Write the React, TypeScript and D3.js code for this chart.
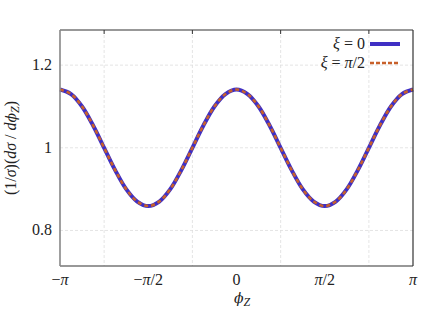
import React from 'react';
import * as d3 from 'd3';

// phi_Z sampled every pi/16 from -pi to pi
const phiSteps = d3.range(-16, 17);
const xi0 = [
  1.141, 1.130, 1.100, 1.054, 1.000, 0.946, 0.900, 0.870, 0.859, 0.870, 0.900,
  0.946, 1.000, 1.054, 1.100, 1.130, 1.141, 1.130, 1.100, 1.054, 1.000, 0.946,
  0.900, 0.870, 0.859, 0.870, 0.900, 0.946, 1.000, 1.054, 1.100, 1.130, 1.141,
];
const xiHalfPi = [
  1.141, 1.130, 1.100, 1.054, 1.000, 0.946, 0.900, 0.870, 0.859, 0.870, 0.900,
  0.946, 1.000, 1.054, 1.100, 1.130, 1.141, 1.130, 1.100, 1.054, 1.000, 0.946,
  0.900, 0.870, 0.859, 0.870, 0.900, 0.946, 1.000, 1.054, 1.100, 1.130, 1.141,
];
const yTicks = [0.8, 1, 1.2];
const yTickLabels = ['0.8', '1', '1.2'];
const xTicks = [-1, -0.5, 0, 0.5, 1];
const xTickLabels = ['\u2212\u03c0', '\u2212\u03c0/2', '0', '\u03c0/2', '\u03c0'];
const xGrid = [-0.75, -0.25, 0.25, 0.75];

const W = 436;
const H = 327;
const margin = { left: 60, right: 23, top: 30, bottom: 61 };
const font = '"Liberation Serif", "DejaVu Serif", serif';
const phiFont = '"DejaVu Serif", serif';
const fs = 16;

export default function App() {
  const x = d3.scaleLinear().domain([-Math.PI, Math.PI]).range([margin.left, W - margin.right]);
  const y = d3.scaleLinear().domain([0.714, 1.285]).range([H - margin.bottom, margin.top]);

  const line = d3.line<number>()
    .x((d, i) => x(phiSteps[i] * Math.PI / 16))
    .y(d => y(d))
    .curve(d3.curveCatmullRom);

  const [x0, x1] = x.range();
  const [y0, y1] = y.range();

  return (
    <svg width={W} height={H} style={{ position: 'absolute', left: 0, top: 0 }} fontFamily={font}>
      <rect width={W} height={H} fill="#fff" />
      {xGrid.map(g => (
        <g key={g}>
          <line x1={x(g * Math.PI)} x2={x(g * Math.PI)} y1={y1} y2={y0} stroke="#ddd" strokeWidth={0.8} strokeDasharray="3,2" />
          <line x1={x(g * Math.PI)} x2={x(g * Math.PI)} y1={y1} y2={y1 + 4} stroke="#333" strokeWidth={1} />
        </g>
      ))}
      {yTicks.map(t => (
        <line key={t} x1={x0} x2={x1} y1={y(t)} y2={y(t)} stroke="#ddd" strokeWidth={0.8} strokeDasharray="3,2" />
      ))}
      <path d={line(xi0) || ''} fill="none" stroke="#3f2fc4" strokeWidth={4} />
      <path d={line(xiHalfPi) || ''} fill="none" stroke="#c8602a" strokeWidth={2.6} strokeDasharray="4,3" />
      <line x1={x0} x2={x1} y1={y1} y2={y1} stroke="#333" strokeWidth={1.2} />
      <line x1={x1} x2={x1} y1={y1} y2={y0} stroke="#333" strokeWidth={1.2} />
      <line x1={x0} x2={x1} y1={y0} y2={y0} stroke="#333" strokeWidth={1.2} />
      <line x1={x0} x2={x0} y1={y1} y2={y0} stroke="#888" strokeWidth={1.6} />
      {yTicks.map((t, i) => (
        <text key={t} x={52} y={y(t) + 5} textAnchor="end" fontSize={fs} fill="#222">{yTickLabels[i]}</text>
      ))}
      {xTicks.map((t, i) => (
        <text key={t} x={x(t * Math.PI)} y={285} textAnchor="middle" fontSize={fs} fill="#222">
          {xTickLabels[i].split('').map((c, j) => (
            <tspan key={j} fontStyle={c === '\u03c0' ? 'italic' : 'normal'}>{c}</tspan>
          ))}
        </text>
      ))}
      <text x={234} y={303} fontSize={fs} fill="#222">
        <tspan fontStyle="italic" fontFamily={phiFont} fontSize={14}>ϕ</tspan>
        <tspan fontStyle="italic" fontSize={12} dy={3}>Z</tspan>
      </text>
      <text transform={`translate(16,${(y0 + y1) / 2}) rotate(-90)`} textAnchor="middle" fontSize={fs} fill="#222">
        <tspan>(1/</tspan><tspan fontStyle="italic">σ</tspan><tspan>)(</tspan>
        <tspan fontStyle="italic">dσ</tspan><tspan> / </tspan><tspan fontStyle="italic">d</tspan>
        <tspan fontStyle="italic" fontFamily={phiFont} fontSize={14}>ϕ</tspan>
        <tspan fontStyle="italic" fontSize={12} dy={3}>Z</tspan><tspan dy={-3}>)</tspan>
      </text>
      <text x={365} y={49} textAnchor="end" fontSize={fs} fill="#222">
        <tspan fontStyle="italic">ξ</tspan><tspan> = 0</tspan>
      </text>
      <line x1={370} x2={400} y1={44} y2={44} stroke="#3f2fc4" strokeWidth={4} />
      <text x={365} y={68} textAnchor="end" fontSize={fs} fill="#222">
        <tspan fontStyle="italic">ξ</tspan><tspan> = </tspan><tspan fontStyle="italic">π</tspan><tspan>/2</tspan>
      </text>
      <line x1={370} x2={400} y1={63} y2={63} stroke="#c8602a" strokeWidth={2.6} strokeDasharray="4,2" />
    </svg>
  );
}
